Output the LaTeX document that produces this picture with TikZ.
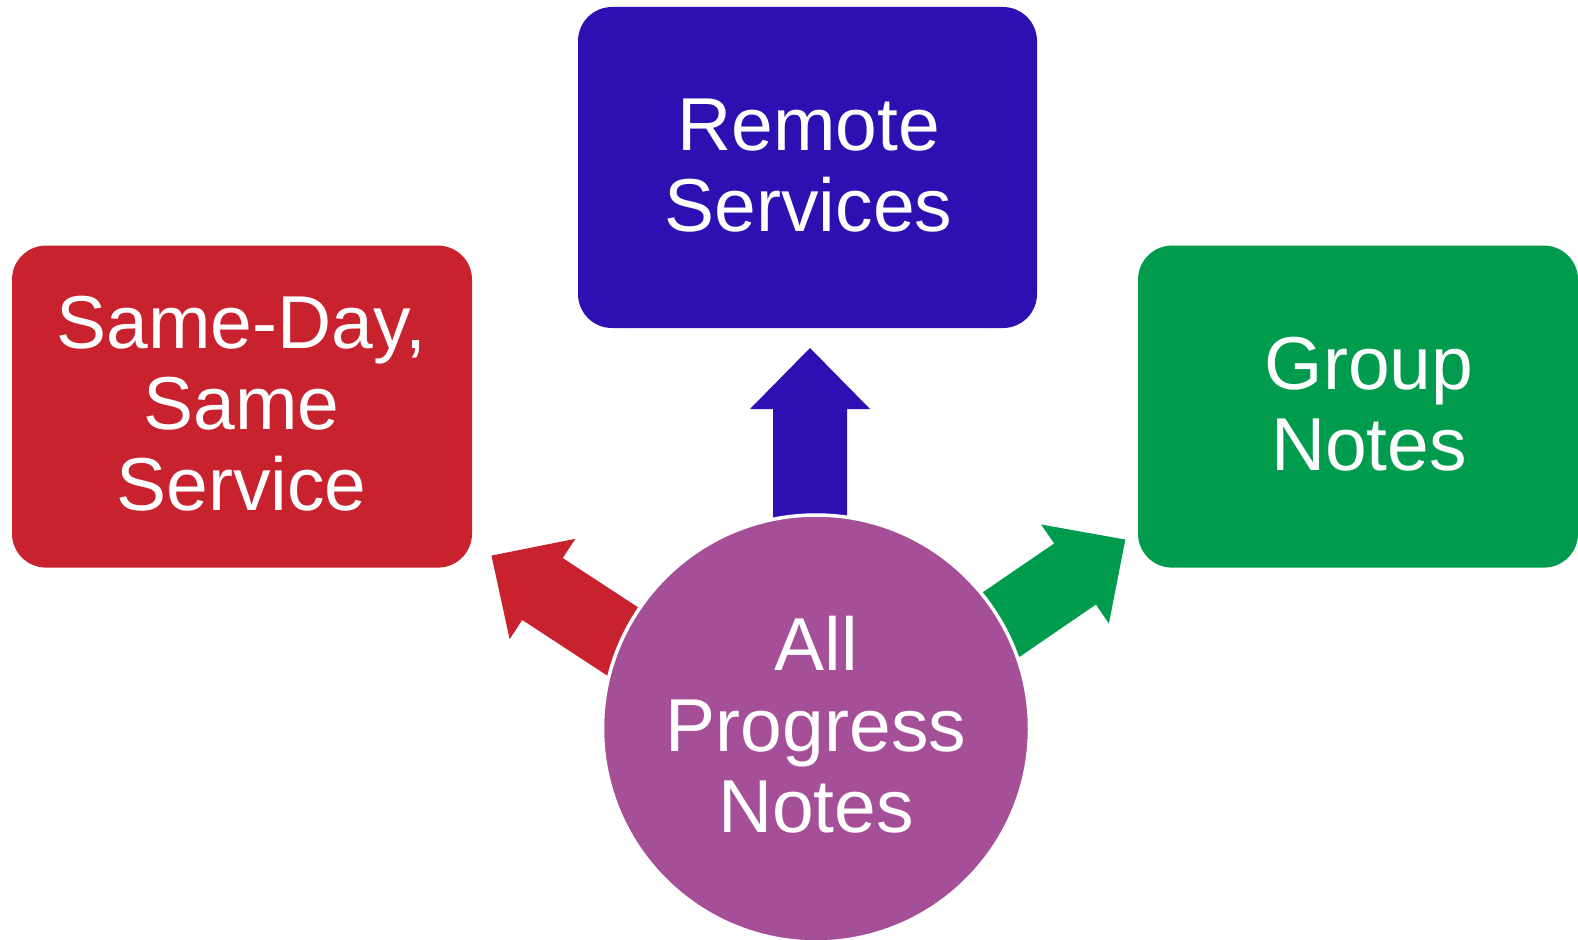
\documentclass[tikz,border=0pt]{standalone}
\usepackage{fontspec}
\setmainfont{Liberation Sans}
\definecolor{cred}{HTML}{C8222F}
\definecolor{cblue}{HTML}{2E0FB2}
\definecolor{cgreen}{HTML}{009B4D}
\definecolor{cpurple}{HTML}{A54F98}
\begin{document}
\begin{tikzpicture}[x=1pt,y=-1pt,
  box/.style={rounded corners=34pt, inner sep=0pt, draw=none},
  label/.style={text=white, align=center, inner sep=0pt,
    font=\fontsize{75}{81}\selectfont},
  blockarrow/.pic={\fill (-115,-37) -- (0,-37) -- (0,-60) -- (61,0) -- (0,60) -- (0,37) -- (-115,37) -- cycle;}]
\useasboundingbox (0,0) rectangle (1578,939);
% block arrows
\pic[cred] at (542.5,589) [rotate=146.8] {blockarrow};
\pic[cgreen] at (1075,574) [rotate=34.4] {blockarrow};
\pic[cblue] at (810,409) [rotate=90] {blockarrow};
% centre circle
\node[circle, fill=cpurple, draw=white, line width=3.5pt, minimum size=427pt, inner sep=0pt] (all) at (816,728.5) {};
% boxes
\node[box, fill=cred, minimum width=460pt, minimum height=322pt] (same) at (242,406.6) {};
\node[box, fill=cblue, minimum width=459pt, minimum height=321pt] (remote) at (807.5,167.5) {};
\node[box, fill=cgreen, minimum width=440pt, minimum height=322pt] (group) at (1358,406.6) {};
% texts
\node[label] (same-t) at (241.5,404) {Same-Day,\\Same\\Service};
\node[label] (remote-t) at (808.5,166) {Remote\\Services};
\node[label] (group-t) at (1369,404) {Group\\Notes};
\node[label] (all-t) at (816,725) {All\\Progress\\Notes};
\end{tikzpicture}
\end{document}
